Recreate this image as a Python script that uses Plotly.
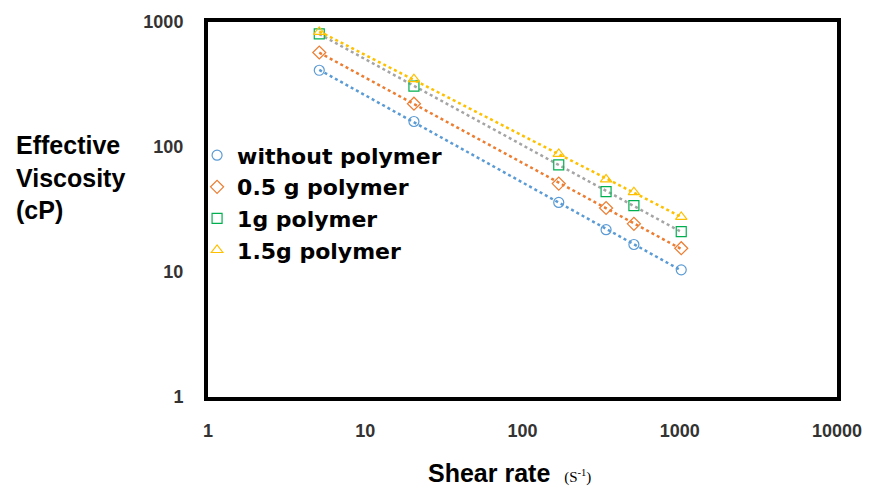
import numpy as np
import plotly.graph_objects as go

shear_rate = [5.1, 20.4, 170, 340, 511, 1022]
series_names = ["without polymer", "0.5 g polymer", "1g polymer", "1.5g polymer"]
visc_without = [411, 160, 36, 21.8, 16.6, 10.4]
visc_05g = [570, 222, 51, 32.5, 24.3, 15.5]
visc_1g = [805, 307, 72, 44, 34, 21]
visc_15g = [833, 349, 88, 55, 43.5, 27.6]

x_ticks = [1, 10, 100, 1000, 10000]
y_ticks = [1, 10, 100, 1000]

series_values = [visc_without, visc_05g, visc_1g, visc_15g]
marker_colors = ["#5B9BD5", "#ED7D31", "#00B050", "#FFC000"]
trend_colors = ["#5B9BD5", "#ED7D31", "#A5A5A5", "#FFC000"]
symbols = ["circle-open", "diamond-open", "square-open", "triangle-up-open"]

fig = go.Figure()
lx = np.log10(shear_rate)
for name, vals, mc, tc, sym in zip(series_names, series_values, marker_colors, trend_colors, symbols):
    b, a = np.polyfit(lx, np.log10(vals), 1)
    xs = np.array([min(shear_rate), max(shear_rate)])
    ys = 10 ** (a + b * np.log10(xs))
    fig.add_trace(go.Scatter(x=xs, y=ys, mode="lines", showlegend=False,
                             line=dict(color=tc, width=2.5, dash="dot"), hoverinfo="skip"))
for name, vals, mc, tc, sym in zip(series_names, series_values, marker_colors, trend_colors, symbols):
    fig.add_trace(go.Scatter(x=shear_rate, y=vals, mode="markers", name=name,
                             marker=dict(symbol=sym, size=10, color=mc, line=dict(width=1.2, color=mc))))

L, T, W, H = 208, 20, 633, 377
B = T + H
font_fam = "Liberation Sans, Arial, sans-serif"
fig.update_layout(
    width=874, height=489,
    margin=dict(l=L, r=874 - L - W, t=T, b=489 - B),
    paper_bgcolor="white", plot_bgcolor="white",
    showlegend=True,
    legend=dict(x=(197 - L) / W, y=(B - 133) / H, xanchor="left", yanchor="top",
                font=dict(family="DejaVu Sans, sans-serif", size=22, color="black", weight="bold"),
                bgcolor="rgba(0,0,0,0)", tracegroupgap=0, itemwidth=30),
    xaxis=dict(type="log", range=[0, 4], tickvals=x_ticks, ticktext=[str(v) for v in x_ticks],
               showgrid=False, zeroline=False, showline=True, linecolor="black", linewidth=4,
               mirror=True, ticks="", ticklabelstandoff=14,
               tickfont=dict(family=font_fam, size=18, color="#333333", weight="bold")),
    yaxis=dict(type="log", range=[0, 3], tickvals=y_ticks, ticktext=[str(v) for v in y_ticks],
               showgrid=False, zeroline=False, showline=True, linecolor="black", linewidth=4,
               mirror=True, ticks="", ticklabelstandoff=17,
               tickfont=dict(family=font_fam, size=18, color="#333333", weight="bold")),
)

fig.add_annotation(xref="paper", yref="paper", x=(13 - L) / W, y=(B - 128) / H, xanchor="left", yanchor="top",
                   align="left", showarrow=False,
                   text="<b>Effective<br>Viscosity<br>(cP)</b>",
                   font=dict(family=font_fam, size=25, color="black"))
fig.add_annotation(xref="paper", yref="paper", x=(511 - L) / W, y=-(457 - B) / H, xanchor="center", yanchor="top",
                   showarrow=False,
                   text="<b>Shear rate</b>  <span style='font-family:Liberation Serif, Times New Roman, serif;font-size:15px'>(S<sup>-1</sup>)</span>",
                   font=dict(family=font_fam, size=25, color="black"))

fig.write_html("out.html", config={"displayModeBar": False},
               post_script="document.body.style.margin='0px';document.body.style.overflow='hidden';")
